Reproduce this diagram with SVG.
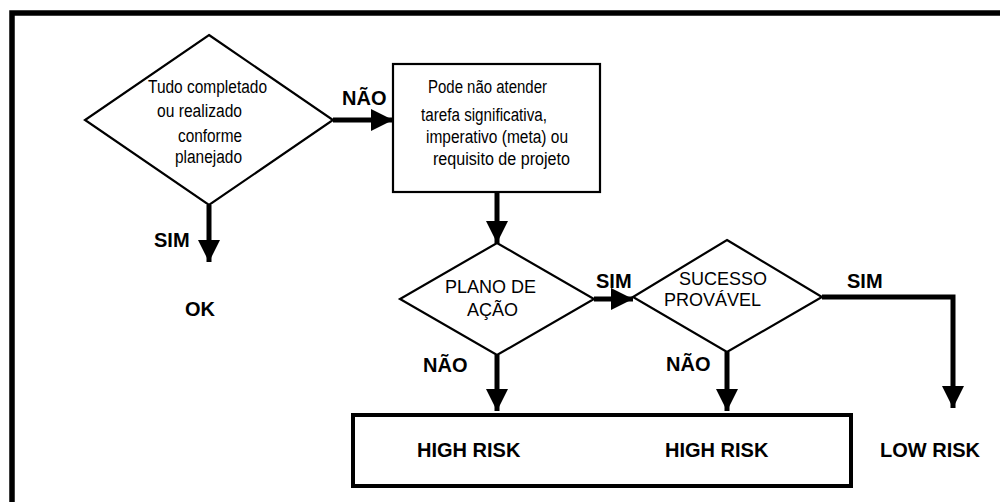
<svg xmlns="http://www.w3.org/2000/svg" width="1000" height="502" viewBox="0 0 1000 502">
  <style>
    .frame { fill: none; stroke: #000; stroke-width: 5.5; }
    .shape { fill: #fff; stroke: #000; stroke-width: 2.2; stroke-linejoin: miter; }
    .thick { fill: #fff; stroke: #000; stroke-width: 4; }
    .conn { fill: none; stroke: #000; stroke-width: 5; }
    .txt { font-family: "Liberation Sans", Arial, sans-serif; font-size: 18px; fill: #000; }
    .cap { font-family: "Liberation Sans", Arial, sans-serif; font-size: 18px; fill: #000; }
    .lbl { font-family: "Liberation Sans", Arial, sans-serif; font-size: 20px; font-weight: bold; fill: #000; }
  </style>
  <defs>
    <marker id="head" viewBox="0 0 22 22" markerWidth="22" markerHeight="22" refX="22" refY="11" orient="auto" markerUnits="userSpaceOnUse">
      <path d="M0,0 L22,11 L0,22 Z" fill="#000"/>
    </marker>
  </defs>

  <rect width="1000" height="502" fill="#fff"/>

  <!-- outer frame (top and left edges) -->
  <path class="frame" d="M12,502 V13 H1000"/>

  <!-- connectors -->
  <g id="connectors">
    <path class="conn" d="M333,120 H393" marker-end="url(#head)"/>
    <path class="conn" d="M209,205 V262" marker-end="url(#head)"/>
    <path class="conn" d="M497,192 V243" marker-end="url(#head)"/>
    <path class="conn" d="M594,299 H633" marker-end="url(#head)"/>
    <path class="conn" d="M497,355 V411" marker-end="url(#head)"/>
    <path class="conn" d="M727,352 V411" marker-end="url(#head)"/>
    <path class="conn" d="M822,297 H953 V408" marker-end="url(#head)"/>
  </g>

  <!-- edge labels -->
  <g id="labels">
    <text class="lbl" x="342" y="105">NÃO</text>
    <text class="lbl" x="154" y="247">SIM</text>
    <text class="lbl" x="596" y="288">SIM</text>
    <text class="lbl" x="423" y="372">NÃO</text>
    <text class="lbl" x="666" y="371">NÃO</text>
    <text class="lbl" x="847" y="288">SIM</text>
  </g>

  <g id="node-tudo">
    <polygon class="shape" points="209,35 333,120 209,205 85,120"/>
    <text class="txt" x="148" y="93" textLength="119" lengthAdjust="spacingAndGlyphs">Tudo completado</text>
    <text class="txt" x="157" y="117" textLength="85" lengthAdjust="spacingAndGlyphs">ou realizado</text>
    <text class="txt" x="178" y="142" textLength="64" lengthAdjust="spacingAndGlyphs">conforme</text>
    <text class="txt" x="175" y="163" textLength="67" lengthAdjust="spacingAndGlyphs">planejado</text>
  </g>

  <g id="node-ok">
    <text class="lbl" x="185" y="316">OK</text>
  </g>

  <g id="node-pode">
    <rect class="shape" x="393" y="64" width="207" height="128"/>
    <text class="txt" x="428" y="93" textLength="119" lengthAdjust="spacingAndGlyphs">Pode não atender</text>
    <text class="txt" x="421" y="121" textLength="126" lengthAdjust="spacingAndGlyphs">tarefa significativa,</text>
    <text class="txt" x="426" y="143" textLength="142" lengthAdjust="spacingAndGlyphs">imperativo (meta) ou</text>
    <text class="txt" x="433" y="165" textLength="137" lengthAdjust="spacingAndGlyphs">requisito de projeto</text>
  </g>

  <g id="node-plano">
    <polygon class="shape" points="497,243 594,299 497,355 400,299"/>
    <text class="cap" x="445" y="293">PLANO DE</text>
    <text class="cap" x="467" y="316">AÇÃO</text>
  </g>

  <g id="node-sucesso">
    <polygon class="shape" points="727,240 822,297 727,352 633,297"/>
    <text class="cap" x="679" y="285">SUCESSO</text>
    <text class="cap" x="664" y="306">PROVÁVEL</text>
  </g>

  <g id="node-high-risk">
    <rect class="thick" x="353" y="415" width="498" height="71"/>
    <text class="lbl" x="417" y="457">HIGH RISK</text>
    <text class="lbl" x="665" y="457">HIGH RISK</text>
  </g>

  <g id="node-low-risk">
    <text class="lbl" x="880" y="457">LOW RISK</text>
  </g>
</svg>
